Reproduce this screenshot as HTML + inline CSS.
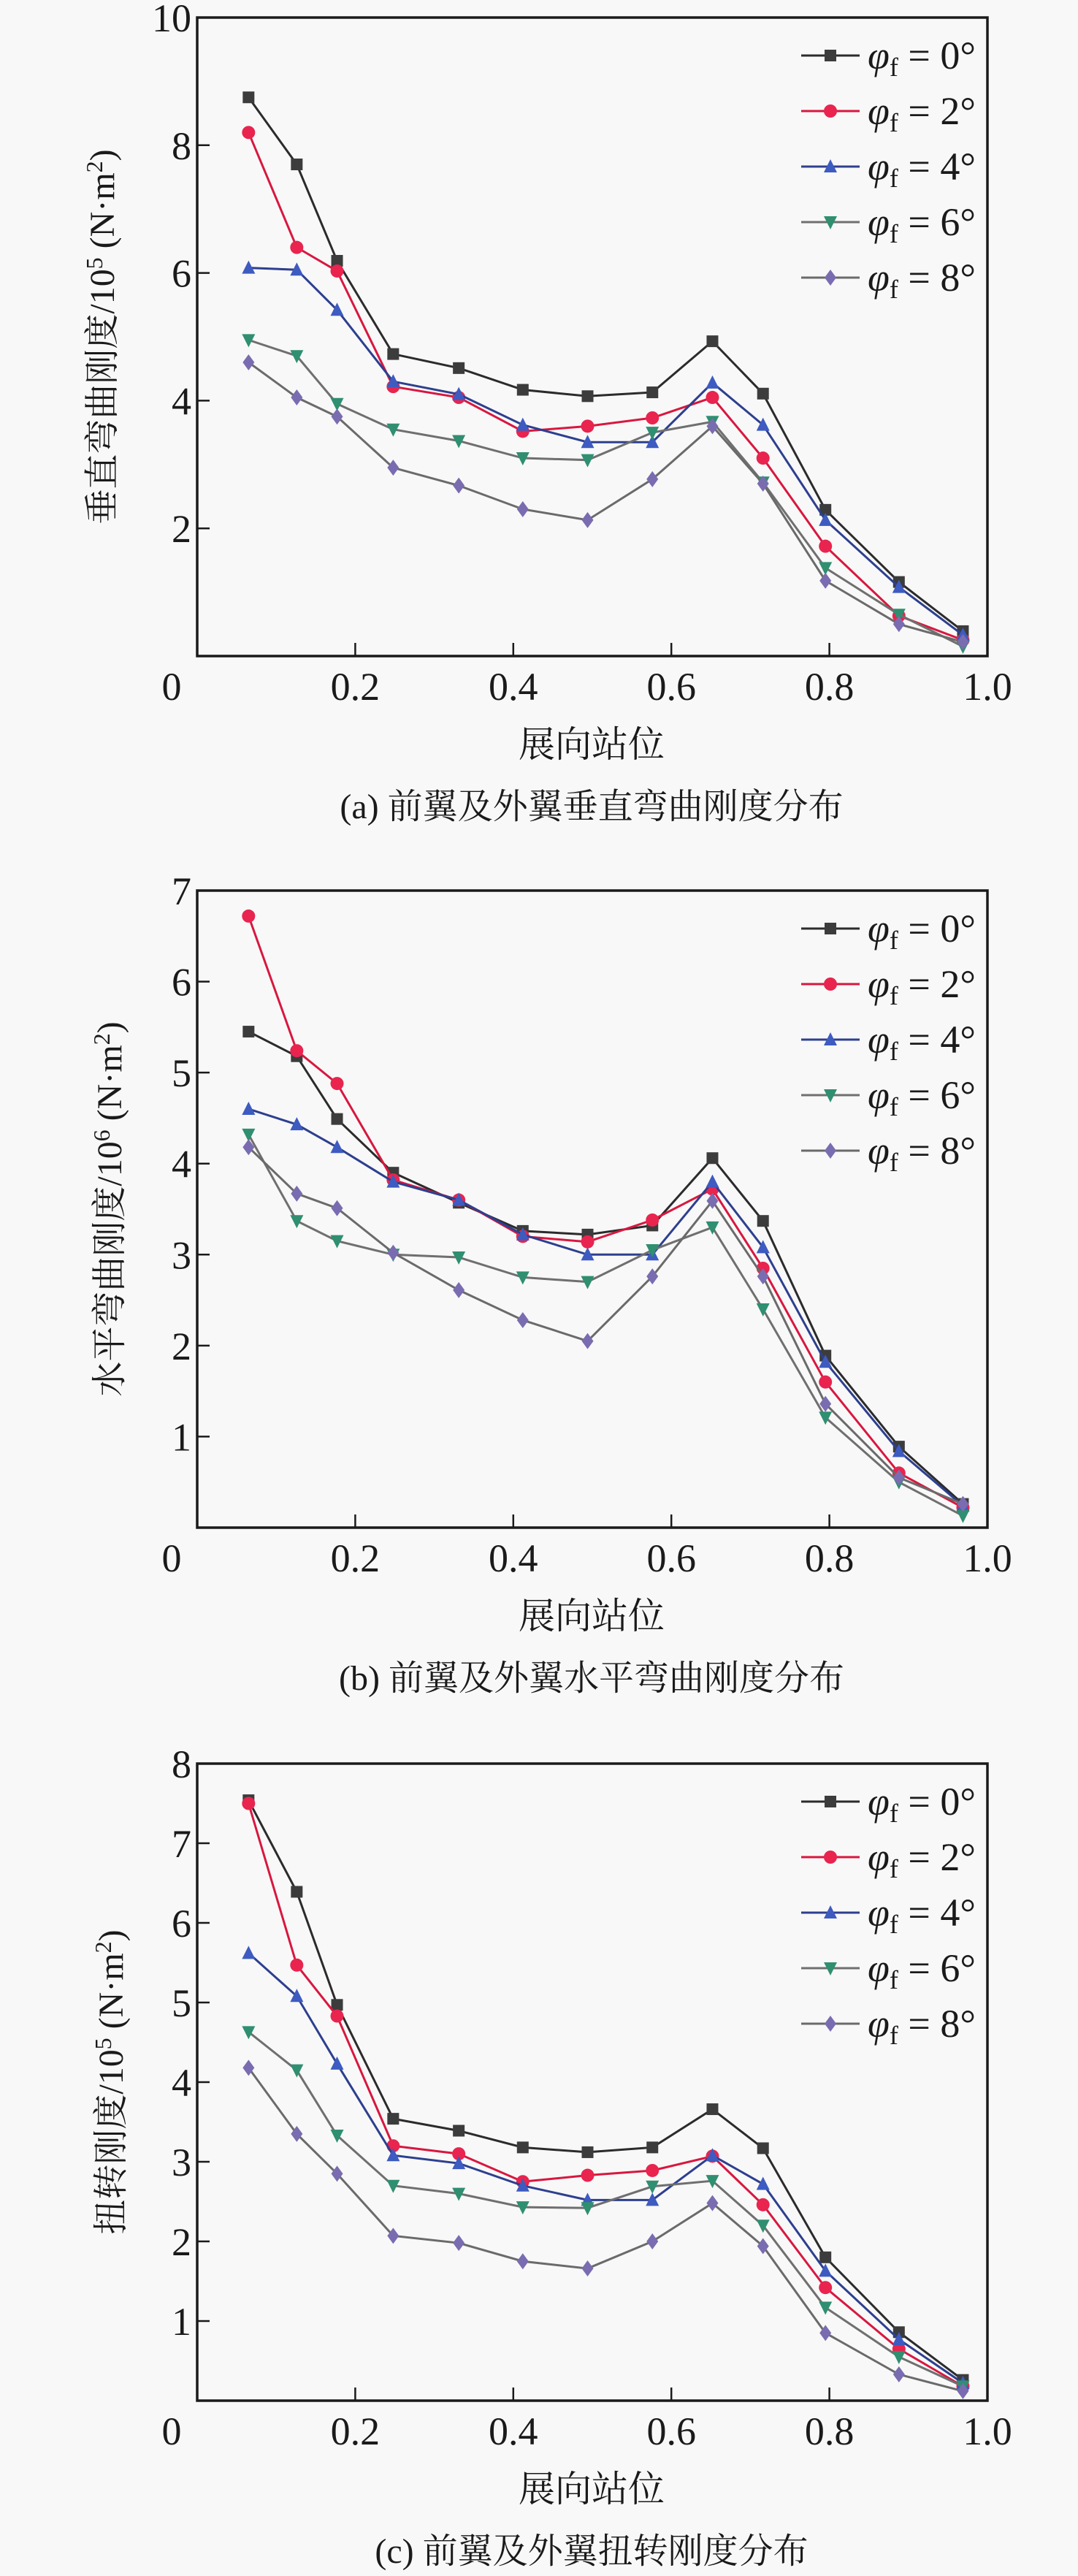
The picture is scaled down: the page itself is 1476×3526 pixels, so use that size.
<!DOCTYPE html>
<html><head><meta charset="utf-8">
<style>
html,body{margin:0;padding:0;background:#f8f8f8;}
svg{display:block;font-family:"Liberation Serif","Noto Serif CJK SC",serif;}
text{font-family:"Liberation Serif","Noto Serif CJK SC",serif;fill:#1a1a1a;}
</style></head>
<body>
<svg id="fig" width="1476" height="3526" viewBox="0 0 1476 3526" xmlns="http://www.w3.org/2000/svg" font-family="Liberation Serif, Noto Serif CJK SC, serif"></svg>
<script>
// ---- shared data ----
const stations = [0.065, 0.126, 0.177, 0.248, 0.331, 0.412, 0.494, 0.576, 0.652, 0.716, 0.795, 0.888, 0.969];
const seriesLabels = ["0°", "2°", "4°", "6°", "8°"];
const xTicks = [0, 0.2, 0.4, 0.6, 0.8, 1.0];
const xTickLabels = ["0", "0.2", "0.4", "0.6", "0.8", "1.0"];

// ---- chart (a) vertical bending ----
const aPhi0 = [8.75, 7.7, 6.19, 4.73, 4.51, 4.17, 4.07, 4.13, 4.93, 4.11, 2.29, 1.16, 0.39];
const aPhi2 = [8.2, 6.4, 6.03, 4.22, 4.05, 3.52, 3.6, 3.73, 4.05, 3.1, 1.72, 0.63, 0.25];
const aPhi4 = [6.08, 6.05, 5.42, 4.3, 4.1, 3.62, 3.35, 3.35, 4.28, 3.62, 2.13, 1.08, 0.33];
const aPhi6 = [4.95, 4.7, 3.95, 3.55, 3.37, 3.1, 3.07, 3.5, 3.67, 2.72, 1.38, 0.65, 0.15];
const aPhi8 = [4.6, 4.05, 3.75, 2.95, 2.67, 2.3, 2.13, 2.77, 3.6, 2.7, 1.18, 0.5, 0.22];
const aYTicks = [2, 4, 6, 8, 10];

// ---- chart (b) horizontal bending ----
const bPhi0 = [5.45, 5.18, 4.49, 3.9, 3.57, 3.26, 3.22, 3.32, 4.06, 3.37, 1.89, 0.89, 0.26];
const bPhi2 = [6.72, 5.24, 4.88, 3.82, 3.6, 3.2, 3.14, 3.38, 3.72, 2.85, 1.6, 0.6, 0.22];
const bPhi4 = [4.6, 4.43, 4.18, 3.8, 3.6, 3.22, 3.0, 3.0, 3.8, 3.08, 1.82, 0.84, 0.24];
const bPhi6 = [4.32, 3.37, 3.15, 3.0, 2.97, 2.75, 2.7, 3.05, 3.3, 2.4, 1.21, 0.5, 0.13];
const bPhi8 = [4.18, 3.67, 3.51, 3.02, 2.61, 2.28, 2.05, 2.76, 3.59, 2.76, 1.36, 0.55, 0.26];
const bYTicks = [1, 2, 3, 4, 5, 6, 7];

// ---- chart (c) torsion ----
const cPhi0 = [7.54, 6.39, 4.97, 3.54, 3.39, 3.18, 3.12, 3.18, 3.66, 3.17, 1.8, 0.86, 0.26];
const cPhi2 = [7.5, 5.47, 4.83, 3.2, 3.1, 2.75, 2.83, 2.89, 3.07, 2.46, 1.42, 0.65, 0.18];
const cPhi4 = [5.62, 5.08, 4.23, 3.08, 2.98, 2.7, 2.52, 2.52, 3.08, 2.72, 1.63, 0.77, 0.22];
const cPhi6 = [4.63, 4.15, 3.33, 2.7, 2.6, 2.43, 2.42, 2.69, 2.76, 2.2, 1.17, 0.55, 0.18];
const cPhi8 = [4.18, 3.35, 2.85, 2.07, 1.98, 1.75, 1.66, 2.0, 2.48, 1.94, 0.85, 0.33, 0.12];
const cYTicks = [1, 2, 3, 4, 5, 6, 7, 8];

const NS = "http://www.w3.org/2000/svg";
const FONT = "Liberation Serif, Noto Serif CJK SC, serif";
const svg = document.getElementById("fig");
const styles = [
  {line:"#2b2b2b", fill:"#3c3c3c", shape:"square"},
  {line:"#d8173f", fill:"#e8244f", shape:"circle"},
  {line:"#2d3f8f", fill:"#3d5bc0", shape:"tri"},
  {line:"#6f6f6f", fill:"#2f8f70", shape:"tridown"},
  {line:"#6a6a6a", fill:"#7a6cb0", shape:"diamond"}
];
function mk(tag, attrs, parent){
  const e = document.createElementNS(NS, tag);
  for (const k in attrs) e.setAttribute(k, attrs[k]);
  if (tag==="text") e.setAttribute("font-family", FONT);
  (parent||svg).appendChild(e);
  return e;
}
function marker(g, shape, x, y, fill){
  let e;
  if (shape==="square") e = mk("rect",{x:x-8,y:y-8,width:16,height:16,fill:fill},g);
  else if (shape==="circle") e = mk("circle",{cx:x,cy:y,r:9,fill:fill},g);
  else if (shape==="tri") e = mk("polygon",{points:`${x},${y-10} ${x-9},${y+8} ${x+9},${y+8}`,fill:fill},g);
  else if (shape==="tridown") e = mk("polygon",{points:`${x},${y+10} ${x-9},${y-8} ${x+9},${y-8}`,fill:fill},g);
  else e = mk("polygon",{points:`${x},${y-11} ${x-8},${y} ${x},${y+11} ${x+8},${y}`,fill:fill},g);
  return e;
}
function chart(cfg){
  const L=270, R=1352, T=cfg.top, B=cfg.bottom;
  const xs = v => L + v*(R-L);
  const ys = v => B - v/cfg.ymax*(B-T);
  const g = mk("g",{});
  
  
  const fr = mk("rect",{x:L,y:T,width:R-L,height:B-T,fill:"none",stroke:"#1a1a1a","stroke-width":3.5},g);
  
  
  xTicks.forEach((t,i)=>{
    const x = xs(t);
    if (i>0 && i<xTicks.length-1) {
      const tk = mk("line",{x1:x,y1:B,x2:x,y2:B-18,stroke:"#1a1a1a","stroke-width":2.5},g);
      
      
    }
    const lx = i===0 ? x-35 : x;
    const tl = mk("text",{x:lx,y:B+60,"font-size":54,"text-anchor":"middle"},g);
    tl.textContent = xTickLabels[i];
    
    
  });
  cfg.yticks.forEach(t=>{
    const y = ys(t);
    if (t < cfg.ymax) {
      const tk = mk("line",{x1:L,y1:y,x2:L+17,y2:y,stroke:"#1a1a1a","stroke-width":2.5},g);
      
      
    }
    const tl = mk("text",{x:L-8,y:y+19,"font-size":54,"text-anchor":"end"},g);
    tl.textContent = String(t);
    
    
  });
  cfg.series.forEach((vals,si)=>{
    const st = styles[si];
    const pts = vals.map((v,i)=>`${xs(stations[i])},${ys(v)}`).join(" ");
    const pl = mk("polyline",{points:pts,fill:"none",stroke:st.line,"stroke-width":3},g);
    
    
    vals.forEach((v,i)=>{
      const m = marker(g, st.shape, xs(stations[i]), ys(v), st.fill);
      
      
    });
  });
  seriesLabels.forEach((lab,si)=>{
    const st = styles[si];
    const y = T + 52 + si*76;
    const lg = mk("g",{},g);
    
    
    mk("line",{x1:1097,y1:y,x2:1177,y2:y,stroke:st.line,"stroke-width":3},lg);
    marker(lg, st.shape, 1137, y, st.fill);
    const t = mk("text",{x:1188,y:y+18,"font-size":54},lg);
    t.innerHTML = `<tspan font-style="italic">φ</tspan><tspan font-size="36" dy="10">f</tspan><tspan dy="-10"> = ${lab}</tspan>`;
  });
  const yt = mk("text",{x:0,y:0,"font-size":48,"text-anchor":"middle",transform:`translate(${cfg.ytx},${(T+B)/2}) rotate(-90)`},g);
  yt.innerHTML = cfg.ytitle;
  
  
  const xt = mk("text",{x:810,y:B+138,"font-size":50,"text-anchor":"middle"},g);
  xt.textContent = "展向站位";
  
  
  const cap = mk("text",{x:810,y:B+222,"font-size":48,"text-anchor":"middle"},g);
  cap.textContent = cfg.caption;
  
  
}
chart({name:"chart-vertical-bending",top:24,bottom:898,ymax:10,yticks:aYTicks,
  series:[aPhi0,aPhi2,aPhi4,aPhi6,aPhi8],ytx:156,
  ytitle:'垂直弯曲刚度/10<tspan font-size="32" dy="-16">5</tspan><tspan dy="16"> (N·m</tspan><tspan font-size="32" dy="-16">2</tspan><tspan dy="16">)</tspan>',
  caption:"(a) 前翼及外翼垂直弯曲刚度分布"});
chart({name:"chart-horizontal-bending",top:1219,bottom:2091,ymax:7,yticks:bYTicks,
  series:[bPhi0,bPhi2,bPhi4,bPhi6,bPhi8],ytx:166,
  ytitle:'水平弯曲刚度/10<tspan font-size="32" dy="-16">6</tspan><tspan dy="16"> (N·m</tspan><tspan font-size="32" dy="-16">2</tspan><tspan dy="16">)</tspan>',
  caption:"(b) 前翼及外翼水平弯曲刚度分布"});
chart({name:"chart-torsion",top:2414,bottom:3286,ymax:8,yticks:cYTicks,
  series:[cPhi0,cPhi2,cPhi4,cPhi6,cPhi8],ytx:168,
  ytitle:'扭转刚度/10<tspan font-size="32" dy="-16">5</tspan><tspan dy="16"> (N·m</tspan><tspan font-size="32" dy="-16">2</tspan><tspan dy="16">)</tspan>',
  caption:"(c) 前翼及外翼扭转刚度分布"});
</script>
</body></html>
